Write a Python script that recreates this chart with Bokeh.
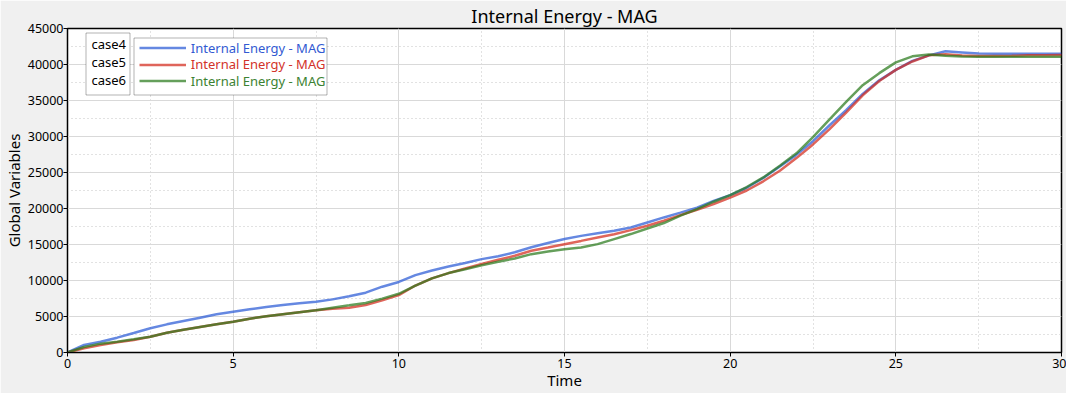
from bokeh.plotting import figure
from bokeh.models import (Range1d, SingleIntervalTicker, BasicTickFormatter, Legend, LegendItem,
                          BoxAnnotation, Label)
from bokeh.embed import file_html
from bokeh.resources import INLINE

FONT = "Noto Sans"

time = [0, 0.5, 1.0, 1.5, 2.0, 2.5, 3.0, 3.5, 4.0, 4.5, 5.0, 5.5, 6.0, 6.5, 7.0, 7.5,
        8.0, 8.5, 9.0, 9.5, 10.0, 10.5, 11.0, 11.5, 12.0, 12.5, 13.0, 13.5, 14.0, 14.5,
        15.0, 15.5, 16.0, 16.5, 17.0, 17.5, 18.0, 18.5, 19.0, 19.5, 20.0, 20.5, 21.0,
        21.5, 22.0, 22.5, 23.0, 23.5, 24.0, 24.5, 25.0, 25.5, 26.0, 26.5, 27.0, 27.5,
        28.0, 28.5, 29.0, 29.5, 30.0]

case4 = [0, 1040, 1500, 2060, 2700, 3360, 3910, 4375, 4840, 5300, 5670, 6000, 6320, 6600,
         6830, 7060, 7380, 7800, 8310, 9140, 9800, 10750, 11380, 11940, 12440, 12970,
         13360, 13920, 14610, 15210, 15760, 16200, 16570, 16900, 17360, 18060, 18760,
         19430, 20120, 21060, 21850, 22880, 24230, 25830, 27450, 29350, 31560, 33650,
         35910, 37800, 39250, 40500, 41270, 41840, 41680, 41520, 41500, 41500, 41500,
         41500, 41500]

case5 = [0, 580, 1040, 1410, 1740, 2200, 2750, 3170, 3540, 3910, 4280, 4700, 5020, 5300,
         5580, 5860, 6090, 6230, 6600, 7250, 7980, 9300, 10300, 11030, 11660, 12290,
         12880, 13430, 14130, 14580, 15040, 15500, 15970, 16430, 17000, 17600, 18300,
         19080, 19830, 20620, 21520, 22500, 23780, 25250, 27000, 28900, 31030, 33330,
         35720, 37700, 39250, 40420, 41270, 41420, 41250, 41180, 41180, 41200, 41270,
         41300, 41320]

case6 = [0, 760, 1230, 1500, 1830, 2200, 2750, 3170, 3540, 3910, 4280, 4700, 5020, 5300,
         5580, 5860, 6230, 6550, 6880, 7480, 8150, 9300, 10300, 11030, 11570, 12130,
         12600, 13060, 13660, 14030, 14340, 14570, 15050, 15750, 16450, 17230, 17980,
         19000, 19920, 20940, 21860, 22980, 24320, 25950, 27670, 29920, 32370, 34800,
         37120, 38800, 40300, 41130, 41400, 41200, 41100, 41090, 41090, 41090, 41090,
         41090, 41090]

case_names = ["case4", "case5", "case6"]
series_label = "Internal Energy - MAG"
title_text = "Internal Energy - MAG"
x_label = "Time"
y_label = "Global Variables"
line_colors = ["#2a5ad6", "#d22a1c", "#2a7a1c"]
text_colors = ["#325ad2", "#d2322a", "#3c8232"]

W, H = 1066, 393
p = figure(width=W, height=H, output_backend="svg", toolbar_location=None,
           x_range=Range1d(0, 30), y_range=Range1d(0, 45000), title=title_text,
           min_border_left=67, min_border_right=5, min_border_top=28, min_border_bottom=41)

p.background_fill_color = "white"
p.border_fill_color = "#f0f0f0"
p.outline_line_color = "black"
p.outline_line_width = 1.5

p.title.align = "center"
p.title.text_font = FONT
p.title.text_font_size = "18px"
p.title.text_font_style = "normal"
p.title.text_color = "black"
p.title.standoff = 1

p.xaxis.ticker = SingleIntervalTicker(interval=5, num_minor_ticks=2)
p.yaxis.ticker = SingleIntervalTicker(interval=5000, num_minor_ticks=2)
p.yaxis.formatter = BasicTickFormatter(use_scientific=False)

p.xaxis.axis_label = x_label
p.yaxis.axis_label = y_label
for ax in (p.xaxis, p.yaxis):
    ax.axis_label_text_font = FONT
    ax.axis_label_text_font_size = "15px"
    ax.axis_label_text_font_style = "normal"
    ax.axis_label_text_color = "black"
    ax.major_label_text_font = FONT
    ax.major_label_text_font_size = "12.5px"
    ax.major_label_text_color = "black"
    ax.axis_line_color = "black"
    ax.major_tick_line_color = "black"
    ax.major_tick_out = 4
    ax.major_tick_in = 0
    ax.minor_tick_line_color = None
p.xaxis.major_label_standoff = 2
p.xaxis.axis_label_standoff = -1
p.yaxis.major_label_standoff = 0
p.yaxis.axis_label_standoff = 1

for g in (p.xgrid, p.ygrid):
    g.grid_line_color = "#d9d9d9"
    g.grid_line_width = 1
    g.minor_grid_line_color = "#c4c4c4"
    g.minor_grid_line_dash = "1 3"

renderers = []
for ys, c in zip([case4, case5, case6], line_colors):
    r = p.line(time, ys, line_color=c, line_width=2.5, line_alpha=0.72)
    renderers.append(r)

# legend frames (canvas pixel units)
p.add_layout(BoxAnnotation(left=133.5, right=326.5, top=37.5, bottom=94.5,
                           left_units="canvas", right_units="canvas",
                           top_units="canvas", bottom_units="canvas",
                           fill_color="white", fill_alpha=1.0,
                           line_color="black", line_width=1, level="annotation"))
p.add_layout(BoxAnnotation(left=85.5, right=129.5, top=32.5, bottom=94.5,
                           left_units="canvas", right_units="canvas",
                           top_units="canvas", bottom_units="canvas",
                           fill_color="white", fill_alpha=1.0,
                           line_color="black", line_width=1, level="annotation"))

row_bottoms = [295.2, 278.8, 262.2]
for r, tc, vy in zip(renderers, text_colors, row_bottoms):
    lg = Legend(items=[LegendItem(label=series_label, renderers=[r])],
                location=(71.8, vy), orientation="vertical",
                border_line_color=None, background_fill_alpha=0,
                padding=0, margin=0, spacing=0, label_standoff=5,
                glyph_width=47, glyph_height=17, label_height=17,
                label_text_font=FONT, label_text_font_size="13px",
                label_text_color=tc)
    p.add_layout(lg, "center")

p.add_layout(Label(x=125.5, y=34.5, x_units="canvas", y_units="canvas",
                   text="\n".join(case_names), level="overlay",
                   text_align="right", text_baseline="top",
                   text_font=FONT, text_font_size="13px", text_line_height=1.0,
                   text_color="black"))

open("out.html", "w").write(file_html(p, INLINE))
